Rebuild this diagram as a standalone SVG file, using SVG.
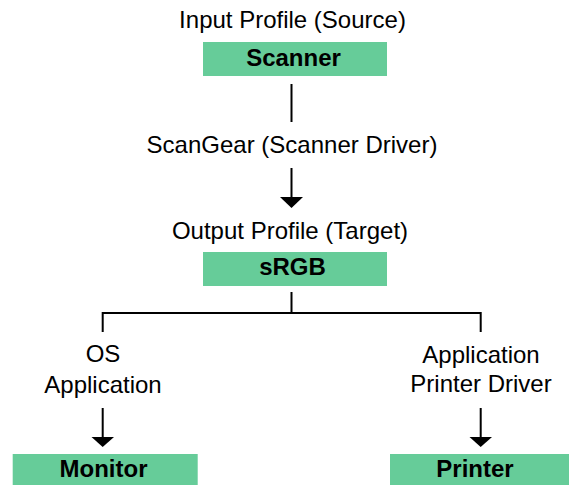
<svg xmlns="http://www.w3.org/2000/svg" width="569" height="485" viewBox="0 0 569 485">
<style>
.t{font-family:"Liberation Sans",Arial,sans-serif;font-size:24px;fill:#000;text-anchor:middle}
.b{font-family:"Liberation Sans",Arial,sans-serif;font-size:24px;font-weight:bold;fill:#000;text-anchor:middle}
.box{fill:#66CC99}
.ln{stroke:#000;stroke-width:2;fill:none}
.ah{fill:#000}
</style>
<rect width="569" height="485" fill="#fff"/>
<g id="connectors">
<line class="ln" x1="291.5" y1="84" x2="291.5" y2="122"/>
<line class="ln" x1="291.5" y1="168" x2="291.5" y2="200"/>
<polygon class="ah" points="280,197 303,197 291.5,208"/>
<polyline class="ln" points="291.5,292 291.5,313"/>
<polyline class="ln" points="102.7,332 102.7,313 480.7,313 480.7,332"/>
<line class="ln" x1="102.7" y1="408" x2="102.7" y2="440"/>
<polygon class="ah" points="91.5,437 114,437 102.7,447"/>
<line class="ln" x1="480.7" y1="408" x2="480.7" y2="440"/>
<polygon class="ah" points="469.5,437 492,437 480.7,447"/>
</g>
<g id="label-input"><text class="t" x="292.5" y="28">Input Profile (Source)</text></g>
<g id="scanner"><rect class="box" x="203" y="42" width="184" height="34"/><text class="b" x="293.5" y="66">Scanner</text></g>
<g id="label-scangear"><text class="t" x="292" y="153">ScanGear (Scanner Driver)</text></g>
<g id="label-output"><text class="t" x="290" y="239">Output Profile (Target)</text></g>
<g id="srgb"><rect class="box" x="203" y="252" width="184" height="34"/><text class="b" x="292.5" y="275">sRGB</text></g>
<g id="label-os"><text class="t" x="103" y="362">OS</text><text class="t" x="103" y="393">Application</text></g>
<g id="label-app"><text class="t" x="481" y="363">Application</text><text class="t" x="481" y="392">Printer Driver</text></g>
<g id="monitor"><rect class="box" x="12.7" y="454" width="185" height="34"/><text class="b" x="103.5" y="477">Monitor</text></g>
<g id="printer"><rect class="box" x="390" y="454" width="185" height="34"/><text class="b" x="475" y="477">Printer</text></g>
</svg>
